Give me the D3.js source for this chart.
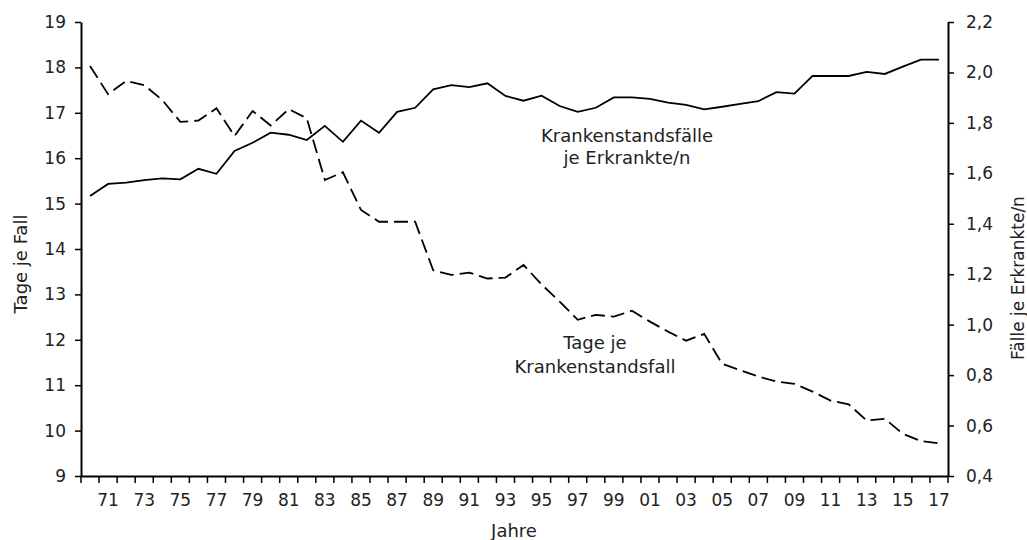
<!DOCTYPE html>
<html>
<head>
<meta charset="utf-8">
<script src="https://cdn.jsdelivr.net/npm/d3@7"></script>
<style>
  body { margin: 0; background: #fff; }
  svg text { font-family: "DejaVu Sans", sans-serif; fill: #222; }
</style>
</head>
<body>
<div id="chart"></div>
<script>
// data
const years = d3.range(1970, 2018);
const tageJeFall = [
  18.03, 17.41, 17.70, 17.61, 17.28, 16.80, 16.83, 17.10, 16.49, 17.04,
  16.72, 17.08, 16.88, 15.52, 15.69, 14.86, 14.60, 14.60, 14.60, 13.53,
  13.43, 13.48, 13.35, 13.37, 13.65, 13.22, 12.84, 12.44, 12.55, 12.51,
  12.64, 12.40, 12.18, 11.98, 12.13, 11.47, 11.33, 11.19, 11.08, 11.03,
  10.86, 10.66, 10.58, 10.22, 10.26, 9.93, 9.77, 9.72
];
const faelleJeErkrankte = [
  1.510, 1.558, 1.563, 1.573, 1.580, 1.576, 1.618, 1.598, 1.689, 1.721,
  1.761, 1.753, 1.732, 1.788, 1.725, 1.809, 1.761, 1.844, 1.860, 1.933,
  1.950, 1.942, 1.957, 1.907, 1.888, 1.908, 1.867, 1.844, 1.860, 1.901,
  1.901, 1.895, 1.880, 1.871, 1.854, 1.864, 1.875, 1.886, 1.922, 1.916,
  1.986, 1.986, 1.986, 2.002, 1.994, 2.023, 2.051, 2.051
];
const leftTicks = d3.range(9, 20);
const rightTicks = [0.4, 0.6, 0.8, 1.0, 1.2, 1.4, 1.6, 1.8, 2.0, 2.2];

const width = 1027, height = 540;
const m = { left: 81, right: 948, top: 22, bottom: 476 };

const svg = d3.select('#chart').append('svg')
  .attr('width', width)
  .attr('height', height);

const x = d3.scaleBand().domain(years).range([m.left, m.right]).padding(0);
const yL = d3.scaleLinear().domain([9, 19]).range([m.bottom, m.top]);
const yR = d3.scaleLinear().domain([0.4, 2.2]).range([m.bottom, m.top]);

const comma = d => d3.format('.1f')(d).replace('.', ',');

// left axis
const axL = svg.append('g')
  .attr('transform', `translate(${m.left},0)`)
  .call(d3.axisLeft(yL).tickValues(leftTicks).tickSize(6).tickSizeOuter(0).tickPadding(9));

// right axis
const axR = svg.append('g')
  .attr('transform', `translate(${m.right},0)`)
  .call(d3.axisRight(yR).tickValues(rightTicks).tickFormat(comma).tickSize(6).tickSizeOuter(0).tickPadding(12));

// x axis, labels at band centres, ticks at band edges
const axX = svg.append('g')
  .attr('transform', `translate(0,${m.bottom})`)
  .call(d3.axisBottom(x)
    .tickValues(years.filter(d => d % 2 === 1))
    .tickFormat(d => String(d).slice(2))
    .tickSize(0).tickSizeOuter(0).tickPadding(18));

axX.selectAll('.tick-edge')
  .data(years.map(d => x(d)).concat([m.right]))
  .join('line')
  .attr('class', 'tick-edge')
  .attr('x1', d => d).attr('x2', d => d)
  .attr('y1', 0).attr('y2', 7)
  .attr('stroke', '#000')
  .attr('stroke-width', 1.5);

[axL, axR, axX].forEach(a => {
  a.selectAll('.domain').attr('stroke', '#000').attr('stroke-width', 2);
  a.selectAll('.tick line').attr('stroke', '#000').attr('stroke-width', 1.5);
  a.selectAll('text').style('font-size', '17px').attr('fill', '#222');
});

// lines
const cx = d => x(d) + x.bandwidth() / 2;

svg.append('path')
  .datum(years)
  .attr('fill', 'none')
  .attr('stroke', '#000')
  .attr('stroke-width', 1.8)
  .attr('stroke-dasharray', '14,6')
  .attr('d', d3.line().x(cx).y((d, i) => yL(tageJeFall[i])));

svg.append('path')
  .datum(years)
  .attr('fill', 'none')
  .attr('stroke', '#000')
  .attr('stroke-width', 1.8)
  .attr('d', d3.line().x(cx).y((d, i) => yR(faelleJeErkrankte[i])));

// annotations
const note = (tx, ty, gap, lines) => {
  const t = svg.append('text')
    .attr('text-anchor', 'middle')
    .style('font-size', '18px');
  lines.forEach((l, i) => {
    t.append('tspan').attr('x', tx).attr('y', ty + i * gap).text(l);
  });
};
note(627, 142, 22, ['Krankenstandsfälle', 'je Erkrankte/n']);
note(595, 349, 24, ['Tage je', 'Krankenstandsfall']);

// axis titles
svg.append('text')
  .attr('transform', 'translate(27,264) rotate(-90)')
  .attr('text-anchor', 'middle')
  .style('font-size', '18px')
  .text('Tage je Fall');

svg.append('text')
  .attr('transform', 'translate(1024,278) rotate(-90)')
  .attr('text-anchor', 'middle')
  .style('font-size', '17px')
  .text('Fälle je Erkrankte/n');

svg.append('text')
  .attr('x', 514)
  .attr('y', 537)
  .attr('text-anchor', 'middle')
  .style('font-size', '18px')
  .text('Jahre');
</script>
</body>
</html>
